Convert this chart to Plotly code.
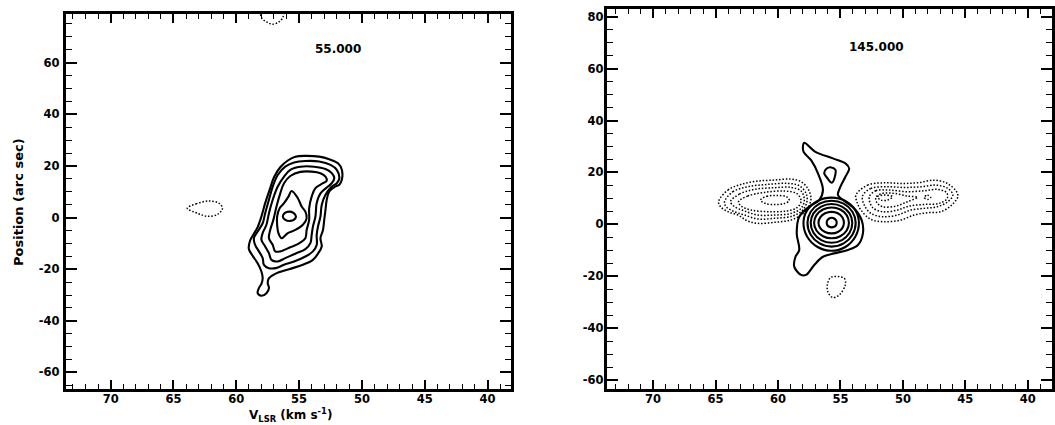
import plotly.graph_objects as go

# ---------------- tick labels ----------------
x_tick_vals = [70, 65, 60, 55, 50, 45, 40]
x_tick_text = ["70", "65", "60", "55", "50", "45", "40"]
y_tick_vals_left = [60, 40, 20, 0, -20, -40, -60]
y_tick_text_left = ["60", "40", "20", "0", "-20", "-40", "-60"]
y_tick_vals_right = [80, 60, 40, 20, 0, -20, -40, -60]
y_tick_text_right = ["80", "60", "40", "20", "0", "-20", "-40", "-60"]

panel_labels = ["55.000", "145.000"]

# ---------------- left panel (55.000) contours: velocity (km/s), position (arcsec) ----------------
L_c1_v = [54.5, 53.4, 52.6, 51.9, 51.6, 51.6, 51.8, 52.2, 52.6, 52.8, 52.9, 53.0, 53.1, 53.3, 53.2, 53.5, 53.9, 54.7,
          55.8, 56.9, 57.4, 57.5, 57.4, 57.6, 58.0, 58.3, 58.2, 58.0, 57.9, 58.0, 58.3, 58.7, 59.0, 58.9, 58.6, 58.3,
          58.0, 57.7, 57.3, 57.0, 56.5, 55.9, 55.3, 54.5]
L_c1_p = [23.9, 23.6, 22.6, 21.0, 18.5, 14.6, 12.7, 11.8, 10.1, 6.9, 3.0, -0.9, -4.8, -8.0, -11.2, -14.0, -16.4, -18.3,
          -20.0, -21.8, -23.5, -25.4, -27.3, -29.3, -30.3, -29.3, -27.3, -25.7, -23.5, -20.9, -17.7, -14.8, -12.2, -8.9,
          -6.3, -3.7, 0.4, 5.6, 11.4, 15.6, 19.5, 22.1, 23.6, 23.9]

L_c2_v = [54.5, 53.4, 52.5, 52.0, 51.8, 52.0, 52.4, 52.9, 53.2, 53.3, 53.5, 53.6, 53.6, 53.9, 54.5, 55.4, 56.2, 56.85,
          57.4, 57.8, 57.9, 58.2, 58.5, 58.6, 58.3, 57.9, 57.7, 57.4, 57.1, 56.7, 56.1, 55.4, 54.5]
L_c2_p = [21.9, 21.7, 20.4, 18.5, 15.2, 13.3, 12.0, 8.8, 4.9, 0.4, -3.5, -6.7, -10.6, -13.1, -15.1, -17.0, -18.3, -19.6,
          -19.6, -18.3, -15.7, -13.1, -10.6, -8.0, -5.4, -2.2, 1.7, 6.9, 12.0, 16.5, 19.7, 21.3, 21.9]

L_c3_v = [54.9, 53.8, 52.9, 52.4, 52.2, 52.4, 52.7, 53.3, 53.6, 53.7, 53.9, 54.0, 54.1, 54.5, 55.3, 56.1, 56.7, 57.2,
          57.4, 57.7, 58.0, 57.9, 57.6, 57.4, 57.1, 56.7, 56.2, 55.7, 54.9]
L_c3_p = [19.7, 19.7, 18.8, 17.2, 15.2, 13.3, 12.0, 9.4, 5.6, 0.4, -3.5, -6.7, -9.9, -12.2, -14.0, -15.7, -17.0, -16.4,
          -13.8, -11.2, -8.6, -6.0, -2.8, 1.7, 6.9, 12.0, 15.9, 18.5, 19.7]

L_c4_v = [54.9, 54.0, 53.3, 52.9, 52.8, 53.1, 53.7, 54.0, 54.2, 54.2, 54.4, 54.5, 55.0, 55.7, 56.5, 56.9, 57.1, 57.4,
          57.3, 57.05, 56.8, 56.5, 56.2, 55.7, 54.9]
L_c4_p = [17.7, 17.8, 17.2, 15.9, 14.3, 13.3, 11.4, 8.1, 3.6, -0.9, -4.8, -8.0, -10.0, -11.5, -13.1, -13.1, -10.6, -8.0,
          -4.8, -0.9, 4.3, 9.4, 13.3, 16.1, 17.7]

L_c5_v = [55.6, 55.1, 54.8, 54.5, 54.4, 54.7, 55.3, 55.9, 56.4, 56.65, 56.75, 56.75, 56.55, 56.2, 55.85, 55.6]
L_c5_p = [10.3, 7.5, 4.3, 2.3, -0.3, -2.8, -4.8, -6.0, -8.0, -6.0, -2.8, 0.4, 3.6, 5.6, 8.1, 10.3]

L_c6_v = [55.25, 55.45, 55.8, 56.15, 56.3, 56.1, 55.7, 55.4, 55.25]
L_c6_p = [0.4, 1.8, 2.3, 1.7, 0.4, -0.9, -1.3, -0.8, 0.4]

# dotted (negative) contours, left panel
L_n1_v = [63.9, 63.2, 62.2, 61.4, 61.1, 61.5, 62.3, 63.0, 63.9]
L_n1_p = [3.6, 5.3, 6.4, 5.6, 3.6, 1.2, 0.5, 1.5, 3.6]
L_n2_v = [58.1, 58.0, 57.6, 57.1, 56.6, 56.3, 56.2]
L_n2_p = [80.0, 77.5, 75.8, 74.9, 75.8, 77.5, 80.0]

# ---------------- right panel (145.000) contours ----------------
R_c1_v = [57.9, 57.0, 55.6, 54.6, 54.3, 54.6, 55.0, 55.2, 54.8, 53.9, 53.3, 53.2, 53.6, 54.4, 55.5, 56.4, 57.1, 57.75,
          58.15, 58.7, 58.6, 58.3, 58.5, 58.3, 57.5, 56.7, 56.4, 56.8, 57.35, 57.95, 58.0, 57.9]
R_c1_p = [31.4, 27.9, 25.4, 23.5, 21.5, 18.3, 14.5, 11.3, 9.4, 6.1, 1.6, -3.5, -8.0, -9.9, -11.2, -12.5, -15.7, -19.5,
          -19.5, -16.3, -12.5, -9.9, -3.5, 2.9, 6.8, 9.3, 13.2, 19.6, 24.7, 27.9, 30.1, 31.4]

R_c2_v = [55.8, 55.4, 55.4, 55.7, 56.0, 56.3, 56.1, 55.8]
R_c2_p = [22.0, 21.0, 19.3, 16.0, 17.5, 19.8, 21.5, 22.0]

R_r1_v = [55.3, 55.35, 55.5, 55.7, 55.9, 56.05, 56.1, 56.05, 55.9, 55.7, 55.5, 55.35, 55.3]
R_r1_p = [0.6, 1.55, 2.25, 2.5, 2.25, 1.55, 0.6, -0.3, -0.96, -1.2, -0.96, -0.3, 0.6]
R_r2_v = [54.72, 54.85, 55.21, 55.7, 56.23, 56.62, 56.76, 56.62, 56.23, 55.7, 55.21, 54.85, 54.72]
R_r2_p = [0.6, 2.7, 4.24, 4.8, 4.24, 2.7, 0.6, -1.45, -2.95, -3.5, -2.95, -1.45, 0.6]
R_r3_v = [54.32, 54.5, 55.01, 55.7, 56.4, 56.92, 57.11, 56.92, 56.4, 55.7, 55.01, 54.5, 54.32]
R_r3_p = [0.6, 3.55, 5.71, 6.5, 5.71, 3.55, 0.6, -2.4, -4.6, -5.4, -4.6, -2.4, 0.6]
R_r4_v = [54.05, 54.27, 54.88, 55.7, 56.54, 57.16, 57.38, 57.16, 56.54, 55.7, 54.88, 54.27, 54.05]
R_r4_p = [0.6, 4.2, 6.84, 7.8, 6.84, 4.2, 0.6, -3.25, -6.07, -7.1, -6.07, -3.25, 0.6]
R_r5_v = [53.78, 54.04, 54.74, 55.7, 56.67, 57.38, 57.64, 57.38, 56.67, 55.7, 54.74, 54.04, 53.78]
R_r5_p = [0.6, 4.85, 7.96, 9.1, 7.96, 4.85, 0.6, -4.0, -7.37, -8.6, -7.37, -4.0, 0.6]
R_r6_v = [53.52, 53.81, 54.61, 55.7, 56.83, 57.66, 57.96, 57.66, 56.83, 55.7, 54.61, 53.81, 53.52]
R_r6_p = [0.6, 5.45, 9.0, 10.3, 9.0, 5.45, 0.6, -4.8, -8.75, -10.2, -8.75, -4.8, 0.6]

# dotted, left wing
R_w1_v = [64.76, 64.01, 62.95, 61.62, 60.29, 58.95, 58.15, 57.62, 57.36, 57.62, 58.15, 58.95, 60.29, 61.62, 62.42,
          63.21, 64.01, 64.6, 64.76]
R_w1_p = [8.71, 13.2, 15.38, 16.66, 17.04, 17.43, 16.4, 13.84, 9.99, 6.15, 3.58, 1.66, 0.76, 0.38, 1.27, 3.58, 4.86,
          6.79, 8.71]
R_w2_v = [64.28, 63.61, 62.42, 60.82, 59.22, 58.29, 57.75, 57.68, 58.02, 58.82, 60.29, 61.62, 62.68, 63.61, 64.15, 64.28]
R_w2_p = [8.71, 12.55, 14.48, 15.38, 15.76, 14.86, 11.91, 8.71, 5.5, 3.2, 2.3, 2.04, 3.58, 5.12, 6.79, 8.71]
R_w3_v = [63.80, 63.08, 61.88, 60.29, 58.95, 58.15, 57.89, 58.15, 58.95, 60.29, 61.62, 62.68, 63.48, 63.80]
R_w3_p = [8.71, 11.66, 13.45, 14.09, 14.22, 12.81, 9.35, 6.15, 4.22, 3.58, 3.58, 5.12, 6.79, 8.71]
R_w4_v = [63.16, 62.42, 61.08, 59.49, 58.48, 58.15, 58.48, 59.35, 60.82, 62.15, 62.95, 63.16]
R_w4_p = [8.71, 10.89, 12.3, 12.81, 11.79, 8.96, 6.4, 5.12, 4.86, 5.5, 7.04, 8.71]
R_w5_v = [61.4, 60.9, 60.1, 59.3, 59.1, 59.5, 60.2, 61.0, 61.4]
R_w5_p = [9.35, 10.8, 11.1, 10.6, 9.2, 8.0, 7.6, 8.0, 9.35]

# dotted, right wing
R_e1_v = [53.76, 52.83, 51.5, 50.16, 48.83, 47.5, 46.44, 45.7, 45.6, 46.1, 46.97, 48.03, 49.1, 50.16, 51.5, 52.56,
          53.36, 53.68, 53.76]
R_e1_p = [11.27, 15.1, 16.0, 15.75, 16.0, 17.0, 15.75, 12.55, 10.6, 7.4, 4.85, 4.47, 3.57, 1.65, 1.0, 1.9, 5.5, 8.7,
          11.27]
R_e2_v = [53.23, 52.56, 51.23, 49.9, 48.57, 47.37, 46.4, 46.0, 46.4, 47.24, 48.3, 49.37, 50.43, 51.63, 52.56, 53.09,
          53.23]
R_e2_p = [10.88, 13.83, 14.47, 14.21, 14.47, 15.11, 13.83, 11.27, 8.7, 6.78, 6.14, 5.5, 3.57, 2.93, 4.21, 7.42, 10.88]
R_e3_v = [52.69, 52.16, 51.1, 49.63, 48.3, 47.24, 46.5, 46.45, 47.1, 48.3, 49.5, 50.43, 51.63, 52.43, 52.69]
R_e3_p = [10.62, 12.93, 13.19, 12.55, 12.93, 13.44, 12.2, 9.98, 8.06, 7.67, 7.03, 5.5, 4.85, 6.52, 10.62]
R_e4_v = [52.16, 51.63, 50.7, 49.63, 48.83, 49.63, 50.56, 51.63, 52.08, 52.16]
R_e4_p = [10.37, 11.91, 11.91, 10.88, 10.37, 8.7, 7.03, 6.78, 8.32, 10.37]
R_e5_v = [52.03, 51.5, 50.83, 51.23, 51.76, 52.03]
R_e5_p = [10.62, 11.27, 10.62, 9.34, 9.34, 10.62]
R_e6_v = [48.3, 48.03, 47.77, 48.03, 48.3]
R_e6_p = [10.4, 11.2, 10.4, 9.6, 10.4]

# dotted, below
R_s1_v = [55.75, 54.69, 54.61, 55.09, 55.62, 56.02, 56.02, 55.75]
R_s1_p = [-20.4, -20.8, -23.3, -27.2, -28.2, -25.9, -22.7, -20.4]

left_solid = [(L_c1_v, L_c1_p), (L_c2_v, L_c2_p), (L_c3_v, L_c3_p), (L_c4_v, L_c4_p), (L_c5_v, L_c5_p),
              (L_c6_v, L_c6_p)]
left_dotted = [(L_n1_v, L_n1_p), (L_n2_v, L_n2_p)]
right_solid = [(R_c1_v, R_c1_p), (R_c2_v, R_c2_p), (R_r1_v, R_r1_p), (R_r2_v, R_r2_p), (R_r3_v, R_r3_p),
               (R_r4_v, R_r4_p), (R_r5_v, R_r5_p), (R_r6_v, R_r6_p)]
right_dotted = [(R_w1_v, R_w1_p), (R_w2_v, R_w2_p), (R_w3_v, R_w3_p), (R_w4_v, R_w4_p), (R_w5_v, R_w5_p),
                (R_e1_v, R_e1_p), (R_e2_v, R_e2_p), (R_e3_v, R_e3_p), (R_e4_v, R_e4_p), (R_e5_v, R_e5_p),
                (R_e6_v, R_e6_p), (R_s1_v, R_s1_p)]

FONT = "DejaVu Sans"
fig = go.Figure()


def add(group, xa, ya, dotted):
    for v, p in group:
        fig.add_trace(go.Scatter(
            x=v, y=p, mode="lines", xaxis=xa, yaxis=ya, hoverinfo="skip", showlegend=False,
            line=dict(color="black", width=1.5 if dotted else 2.1, dash="1.5px,1.8px" if dotted else "solid",
                      shape="spline", smoothing=1.0)))


add(left_solid, "x", "y", False)
add(left_dotted, "x", "y", True)
add(right_solid, "x2", "y2", False)
add(right_dotted, "x2", "y2", True)

tickfont = dict(family=FONT, size=11.5, color="black", weight="bold")


def xaxis(domain, rng, anchor):
    return dict(domain=domain, range=rng, anchor=anchor, tickmode="array", tickvals=x_tick_vals,
                ticktext=x_tick_text, ticks="inside", ticklen=9, tickwidth=1.6, tickcolor="black",
                minor=dict(dtick=1, ticks="inside", ticklen=5, tickwidth=1.3, tickcolor="black"),
                showline=True, linewidth=3, linecolor="black", mirror="allticks", showgrid=False,
                zeroline=False, tickfont=tickfont, ticklabelstandoff=-3)


def yaxis(domain, rng, anchor, vals, text, standoff):
    return dict(domain=domain, range=rng, anchor=anchor, tickmode="array", tickvals=vals, ticktext=text,
                ticks="inside", ticklen=11, tickwidth=1.6, tickcolor="black",
                minor=dict(dtick=5, tick0=0, ticks="inside", ticklen=6, tickwidth=1.3, tickcolor="black"),
                showline=True, linewidth=3, linecolor="black", mirror="allticks", showgrid=False,
                zeroline=False, tickfont=tickfont, ticklabelstandoff=standoff)


ann_font = dict(family=FONT, size=12, color="black", weight="bold")

fig.update_layout(
    width=1055, height=425, margin=dict(l=0, r=0, t=0, b=0),
    paper_bgcolor="white", plot_bgcolor="white", showlegend=False,
    xaxis=xaxis([66 / 1055, 512.5 / 1055], [73.57, 38.13], "y"),
    yaxis=yaxis([1 - 388.7 / 425, 1 - 14 / 425], [-66.3, 78.86], "x", y_tick_vals_left, y_tick_text_left, 1),
    xaxis2=xaxis([608.5 / 1055, 1.0], [73.71, 38.06], "y2"),
    yaxis2=yaxis([1 - 388.7 / 425, 1 - 9 / 425], [-63.35, 82.97], "x2", y_tick_vals_right, y_tick_text_right, -2),
    annotations=[
        dict(text=panel_labels[0], x=338.5 / 1055, y=1 - 49 / 425, xref="paper", yref="paper",
             xanchor="center", yanchor="middle", showarrow=False, font=ann_font),
        dict(text=panel_labels[1], x=879 / 1055, y=1 - 47 / 425, xref="paper", yref="paper",
             xanchor="center", yanchor="middle", showarrow=False, font=ann_font),
        dict(text="V<sub>LSR</sub> (km s<sup>-1</sup>)", x=291 / 1055, y=1 - 415 / 425, xref="paper",
             yref="paper", xanchor="center", yanchor="middle", showarrow=False, font=ann_font),
        dict(text="Position (arc sec)", x=18 / 1055, y=1 - 202 / 425, xref="paper", yref="paper",
             xanchor="center", yanchor="middle", showarrow=False, textangle=-90,
             font=dict(family=FONT, size=13, color="black", weight="bold")),
    ],
)

fig.write_html("out.html")
